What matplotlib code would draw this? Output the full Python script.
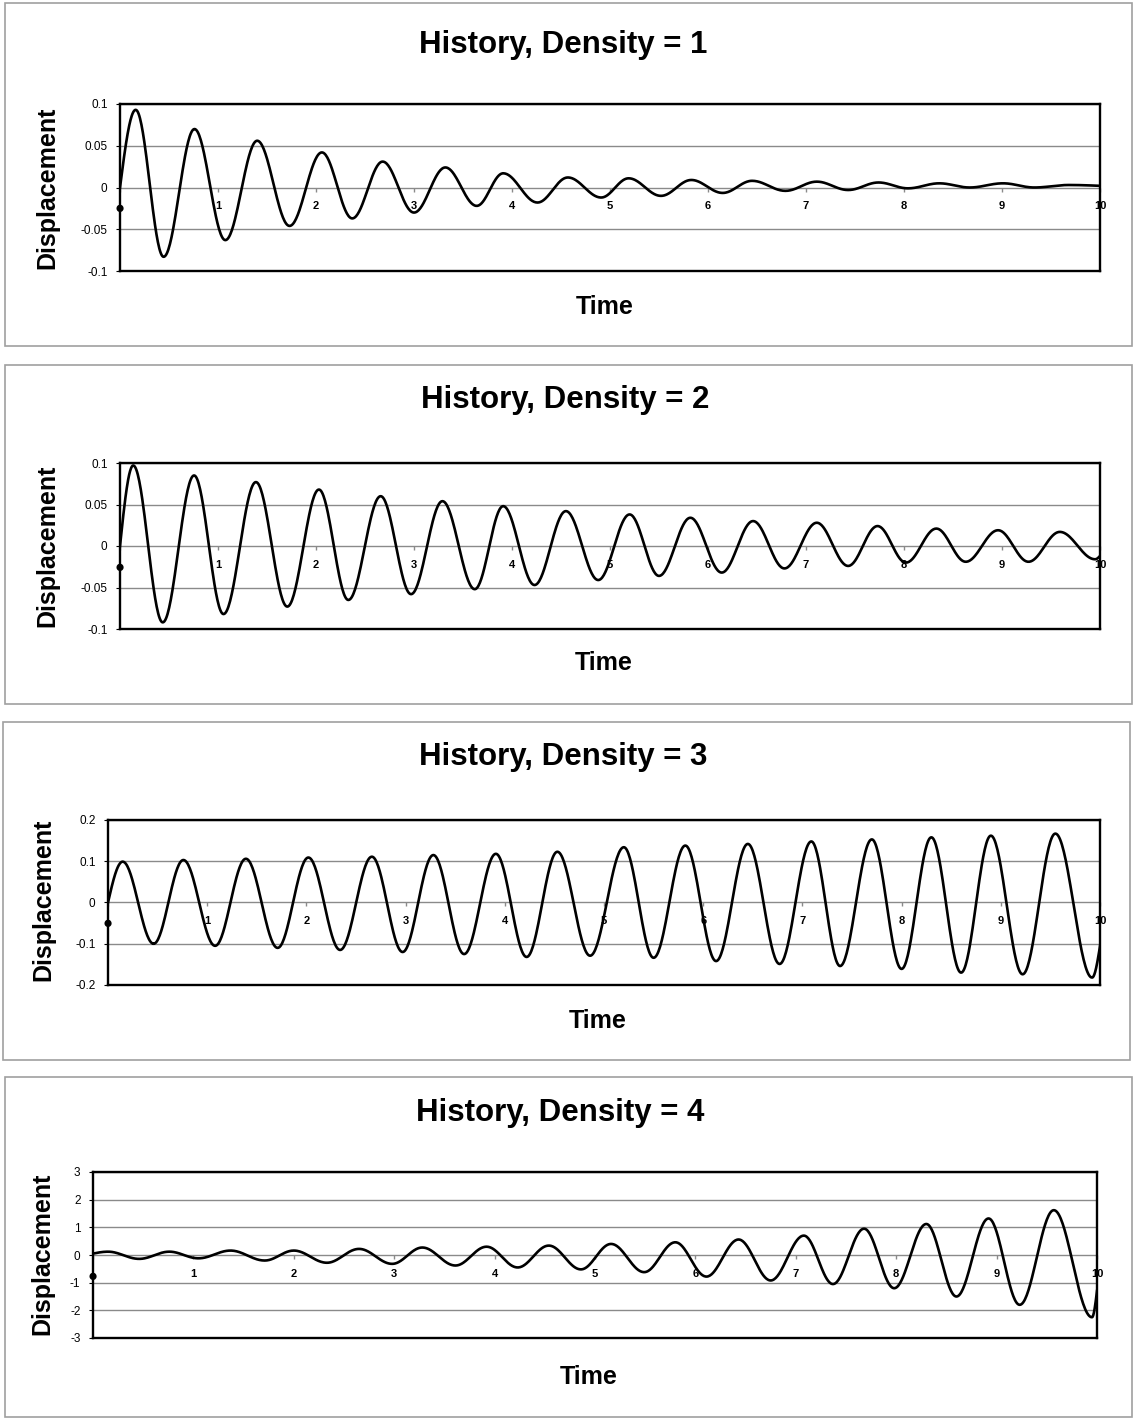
import numpy as np
import matplotlib
matplotlib.use("Agg")
import matplotlib.pyplot as plt
from matplotlib.patches import Rectangle

plt.rcParams['font.family'] = ['Liberation Sans', 'DejaVu Sans']

W, H = 1135, 1420

titles = ["History, Density = 1", "History, Density = 2",
          "History, Density = 3", "History, Density = 4"]

# turning points: time, displacement
t1 = [0, 0.16, 0.445, 0.76, 1.075, 1.40, 1.73, 2.06, 2.37, 2.68, 3.00, 3.32, 3.64, 3.91, 4.26,
      4.57, 4.91, 5.19, 5.52, 5.83, 6.15, 6.45, 6.79, 7.11, 7.43, 7.74, 8.04, 8.36, 8.67, 9.01,
      9.33, 9.68, 10]
d1 = [0, 0.093, -0.083, 0.070, -0.063, 0.056, -0.046, 0.042, -0.037, 0.031, -0.030, 0.024, -0.022,
      0.017, -0.018, 0.012, -0.012, 0.011, -0.010, 0.009, -0.0065, 0.008, -0.004, 0.007, -0.003,
      0.006, -0.001, 0.005, 0.0, 0.005, 0.0, 0.003, 0.002]

t2 = [0, 0.135, 0.436, 0.756, 1.056, 1.387, 1.707, 2.03, 2.33, 2.66, 2.97, 3.29, 3.62, 3.91, 4.23,
      4.55, 4.88, 5.20, 5.50, 5.82, 6.14, 6.46, 6.78, 7.11, 7.43, 7.73, 8.02, 8.33, 8.63, 8.96,
      9.27, 9.59, 9.95, 10]
d2 = [0, 0.097, -0.092, 0.085, -0.082, 0.077, -0.073, 0.068, -0.065, 0.060, -0.058, 0.054, -0.052,
      0.048, -0.047, 0.042, -0.041, 0.038, -0.036, 0.034, -0.032, 0.030, -0.027, 0.028, -0.024,
      0.024, -0.020, 0.021, -0.019, 0.019, -0.019, 0.017, -0.016, -0.012]

t3 = [0, 0.148, 0.46, 0.76, 1.08, 1.39, 1.71, 2.02, 2.34, 2.66, 2.97, 3.28, 3.59, 3.91, 4.22,
      4.53, 4.86, 5.20, 5.50, 5.82, 6.13, 6.45, 6.77, 7.09, 7.38, 7.70, 8.00, 8.30, 8.60, 8.90,
      9.22, 9.55, 9.92, 10]
d3 = [0, 0.099, -0.100, 0.103, -0.105, 0.106, -0.110, 0.109, -0.115, 0.111, -0.120, 0.115, -0.125,
      0.118, -0.132, 0.123, -0.129, 0.134, -0.134, 0.138, -0.142, 0.142, -0.149, 0.148, -0.154,
      0.153, -0.161, 0.158, -0.170, 0.162, -0.174, 0.167, -0.182, -0.106]

t4 = [0, 0.15, 0.46, 0.76, 1.05, 1.37, 1.71, 2.00, 2.33, 2.65, 2.98, 3.28, 3.61, 3.92, 4.23,
      4.54, 4.86, 5.16, 5.49, 5.80, 6.11, 6.43, 6.75, 7.08, 7.37, 7.68, 7.98, 8.30, 8.60, 8.92,
      9.23, 9.57, 9.95, 10]
d4 = [0.05, 0.12, -0.14, 0.12, -0.12, 0.16, -0.20, 0.16, -0.28, 0.22, -0.32, 0.27, -0.38, 0.30,
      -0.45, 0.34, -0.52, 0.40, -0.62, 0.46, -0.78, 0.56, -0.92, 0.70, -1.05, 0.95, -1.2, 1.12,
      -1.5, 1.32, -1.8, 1.62, -2.25, -1.3]

times = [t1, t2, t3, t4]
disps = [d1, d2, d3, d4]

ylims = [0.1, 0.1, 0.2, 3]
yticks = [[-0.1, -0.05, 0, 0.05, 0.1], [-0.1, -0.05, 0, 0.05, 0.1],
          [-0.2, -0.1, 0, 0.1, 0.2], [-3, -2, -1, 0, 1, 2, 3]]
ytick_labels = [["-0.1", "-0.05", "0", "0.05", "0.1"], ["-0.1", "-0.05", "0", "0.05", "0.1"],
                ["-0.2", "-0.1", "0", "0.1", "0.2"], ["-3", "-2", "-1", "0", "1", "2", "3"]]
xticks = list(range(0, 11))
xtick_labels = ["\u25cf"] + [str(i) for i in range(1, 11)]

# layout in pixels: axes (left, top, right, bottom), outer frame, title, ylabel, xlabel
ax_box = [(120, 104, 1100, 271), (120, 463, 1100, 629), (108, 820, 1100, 985), (93, 1172, 1097, 1338)]
frame_box = [(5, 3, 1132, 346), (5, 365, 1132, 704), (3, 722, 1130, 1060), (5, 1077, 1132, 1417)]
title_xy = [(563, 45), (565, 400), (563, 757), (560, 1113)]
ylab_xy = [(47, 188), (47, 546), (43, 900), (42, 1254)]
xlab_xy = [(605, 307), (604, 663), (598, 1021), (589, 1377)]


def curve(ts, ds, n=40):
    xs, ys = [], []
    last = len(ts) - 2
    for i in range(len(ts) - 1):
        s = np.linspace(0, 1, n)
        a, b = ds[i], ds[i + 1]
        if i == 0:
            shape = np.sin(np.pi / 2 * s)
        elif i == last:
            shape = 1 - np.cos(np.pi / 2 * s)
        else:
            shape = (1 - np.cos(np.pi * s)) / 2
        xs.append(ts[i] + (ts[i + 1] - ts[i]) * s)
        ys.append(a + (b - a) * shape)
    return np.concatenate(xs), np.concatenate(ys)


def fx(px):
    return px / W


def fy(py):
    return 1 - py / H


fig = plt.figure(figsize=(W / 100, H / 100), dpi=100)

for k in range(4):
    l, t, r, b = frame_box[k]
    fig.patches.append(Rectangle((fx(l), fy(b)), fx(r - l), (b - t) / H, transform=fig.transFigure,
                                 fill=False, edgecolor="#a0a0a0", lw=1.2))

    l, t, r, b = ax_box[k]
    ax = fig.add_axes([fx(l), fy(b), fx(r - l), (b - t) / H])
    x, y = curve(times[k], disps[k])
    ax.plot(x, y, color="black", lw=1.9, zorder=3)
    ax.set_xlim(0, 10)
    ax.set_ylim(-ylims[k], ylims[k])
    ax.set_yticks(yticks[k])
    ax.set_yticklabels(ytick_labels[k])
    ax.tick_params(axis="y", length=3, labelsize=8.5, pad=6)
    ax.set_xticks([])
    ax.grid(axis="y", color="#8a8a8a", lw=1)
    for sp in ax.spines.values():
        sp.set_linewidth(1.7)

    sec = ax.secondary_xaxis(0.5)
    sec.set_alignment("bottom")
    sec.set_xticks(xticks)
    sec.set_xticklabels(xtick_labels, fontweight="bold")
    sec.spines["bottom"].set_visible(False)
    sec.spines["top"].set_visible(False)
    sec.tick_params(length=3, width=1, color="#8a8a8a", labelsize=8, pad=7)
    sec.get_xticklabels()[0].set_fontsize(12)

    fig.text(fx(title_xy[k][0]), fy(title_xy[k][1]), titles[k], ha="center", va="center",
             fontsize=22.5, fontweight="bold")
    fig.text(fx(ylab_xy[k][0]), fy(ylab_xy[k][1]), "Displacement", ha="center", va="center",
             rotation=90, fontsize=18, fontweight="bold")
    fig.text(fx(xlab_xy[k][0]), fy(xlab_xy[k][1]), "Time", ha="center", va="center",
             fontsize=18, fontweight="bold")

fig.savefig("out.png", dpi=100)
